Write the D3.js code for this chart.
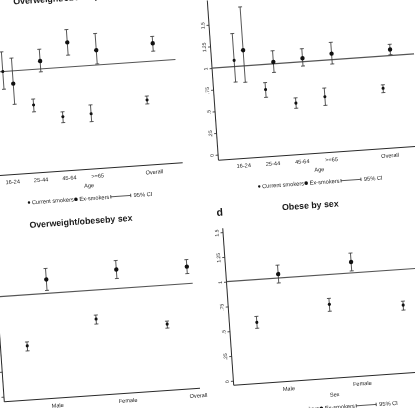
<!DOCTYPE html>
<html><head><meta charset="utf-8">
<script src="https://cdn.jsdelivr.net/npm/d3@7"></script>
<style>
html,body{margin:0;padding:0;background:#fff;overflow:hidden}
svg{display:block;filter:blur(0.3px)}
text{font-family:"Liberation Sans",Arial,Helvetica,sans-serif;fill:#1a1a1a}
</style>
</head><body><svg id="c" width="415" height="408"></svg>
<script>
// ---------- data ----------
const ageCategories = ["16-24","25-44","45-64",">=65","Overall"];
const agePositions  = [1,2,3,4,6];
const sexCategories = ["Male","Female","Overall"];
const sexPositions  = [1,2,3];
const yTickValues = [0,0.25,0.5,0.75,1,1.25,1.5];
const yTickLabels = ["0",".25",".5",".75","1","1.25","1.5"];
const legendLabels = ["Current smokers","Ex-smokers","95% CI"];

// a: Overweight/obese by age
const owAgeCur   = [1.00,0.64,0.50,0.51,0.61];
const owAgeCurLo = [0.82,0.57,0.44,0.43,0.57];
const owAgeCurHi = [1.20,0.70,0.55,0.60,0.65];
const owAgeEx    = [0.87,1.08,1.25,1.15,1.18];
const owAgeExLo  = [0.66,0.97,1.12,1.01,1.10];
const owAgeExHi  = [1.13,1.20,1.38,1.32,1.25];

// b: Obese by age
const obAgeCur   = [1.07,0.71,0.53,0.58,0.63];
const obAgeCurLo = [0.82,0.62,0.47,0.48,0.58];
const obAgeCurHi = [1.38,0.79,0.59,0.68,0.67];
const obAgeEx    = [1.18,1.02,1.04,1.07,1.07];
const obAgeExLo  = [0.81,0.90,0.95,0.95,1.01];
const obAgeExHi  = [1.68,1.15,1.15,1.20,1.13];

// c: Overweight/obese by sex
const owSexCur   = [0.49,0.71,0.61];
const owSexCurLo = [0.44,0.66,0.57];
const owSexCurHi = [0.53,0.75,0.64];
const owSexEx    = [1.14,1.19,1.17];
const owSexExLo  = [1.03,1.10,1.10];
const owSexExHi  = [1.25,1.28,1.24];

// d: Obese by sex
const obSexCur   = [0.57,0.70,0.64];
const obSexCurLo = [0.51,0.63,0.59];
const obSexCurHi = [0.63,0.76,0.68];
const obSexEx    = [1.04,1.11,1.07];
const obSexExLo  = [0.95,1.02,1.01];
const obSexExHi  = [1.13,1.20,1.13];

// ---------- layout (unrotated page coordinates) ----------
const panels = [
  {title:"Overweight/obeseby age", letter:"a", cats:ageCategories, pos:agePositions, xTitle:"Age",
   cur:[owAgeCur,owAgeCurLo,owAgeCurHi], ex:[owAgeEx,owAgeExLo,owAgeExHi],
   x0:-14.1, step:28.39, axisX:-9.3, axisEnd:185.6, axisY:161, top:5, y0:156.1, ppu:98.5,
   offCur:-0.063, offEx:0.275, titleY:-8.5},
  {title:"Obese by age", letter:"b", cats:ageCategories, pos:agePositions, xTitle:"Age",
   cur:[obAgeCur,obAgeCurLo,obAgeCurHi], ex:[obAgeEx,obAgeExLo,obAgeExHi],
   x0:216.5, step:29.33, axisX:221.5, axisEnd:424, axisY:161, top:1, y0:155.5, ppu:86.8,
   offCur:-0.06, offEx:0.27, titleY:-8.5},
  {title:"Overweight/obeseby sex", letter:"c", cats:sexCategories, pos:sexPositions, xTitle:"Sex",
   cur:[owSexCur,owSexCurLo,owSexCurHi], ex:[owSexEx,owSexExLo,owSexExHi],
   x0:-27.03, step:70.55, axisX:-9, axisEnd:187.2, axisY:387.2, top:229, y0:382, ppu:100,
   offCur:-0.365, offEx:-0.03, titleY:215.5},
  {title:"Obese by sex", letter:"d", cats:sexCategories, pos:sexPositions, xTitle:"Sex",
   cur:[obSexCur,obSexCurLo,obSexCurHi], ex:[obSexEx,obSexExLo,obSexExHi],
   x0:201.7, step:73.6, axisX:221, axisEnd:426, axisY:386.6, top:229.3, y0:382.1, ppu:99.3,
   offCur:-0.365, offEx:-0.03, titleY:215.5}
];

const svg = d3.select("#c");
svg.append("rect").attr("width",415).attr("height",408).attr("fill","#fff");
const root = svg.append("g").attr("transform","rotate(-4,207.5,204)");

const ink = "#2a2a2a";

panels.forEach(p => {
  const g = root.append("g");
  const x = d3.scaleLinear().domain([0,1]).range([p.x0, p.x0 + p.step]);
  const y = d3.scaleLinear().domain([0,1]).range([p.y0, p.y0 - p.ppu]);

  // title
  g.append("text").attr("x", p.axisX + 89).attr("y", p.titleY)
    .attr("text-anchor","middle").attr("font-size", 8.8).attr("font-weight","bold")
    .text(p.title);
  g.append("text").attr("x", p.axisX - 5).attr("y", p.titleY + 1)
    .attr("font-size", 10.5).attr("font-weight","bold").text(p.letter);

  // y axis
  const yAx = g.append("g").attr("transform", `translate(${p.axisX},0)`)
    .call(d3.axisLeft(y).tickValues(yTickValues).tickFormat((d,i)=>yTickLabels[i]).tickSize(2.5));
  yAx.select(".domain").remove();
  yAx.selectAll(".tick line").attr("stroke", ink).attr("stroke-width",0.8);
  yAx.selectAll(".tick text").attr("x",null).attr("dy",null).attr("y",null)
    .attr("transform","translate(-4.6,0) rotate(-90)")
    .attr("text-anchor","middle").attr("font-size",5).attr("font-family",null).attr("fill","#1a1a1a");
  g.append("line").attr("x1",p.axisX).attr("x2",p.axisX).attr("y1",p.top).attr("y2",p.axisY)
    .attr("stroke",ink).attr("stroke-width",1);

  // x axis
  const xAx = g.append("g").attr("transform", `translate(0,${p.axisY})`)
    .call(d3.axisBottom(x).tickValues(p.pos).tickFormat((d,i)=>p.cats[i]).tickSize(0));
  xAx.select(".domain").remove();
  xAx.selectAll(".tick text").attr("dy",null).attr("y",9.2)
    .attr("font-size",5.6).attr("font-family",null).attr("fill","#1a1a1a");
  g.append("line").attr("x1",p.axisX).attr("x2",p.axisEnd).attr("y1",p.axisY).attr("y2",p.axisY)
    .attr("stroke",ink).attr("stroke-width",1);
  g.append("text").attr("x",p.axisX+100).attr("y",p.axisY+18.2)
    .attr("text-anchor","middle").attr("font-size",5.6).text(p.xTitle);

  // reference line at 1
  g.append("line").attr("x1",p.axisX).attr("x2",p.axisEnd).attr("y1",y(1)).attr("y2",y(1))
    .attr("stroke","#555").attr("stroke-width",1.2);

  // series
  const series = [
    {vals:p.cur, off:p.offCur, r:1.55},
    {vals:p.ex,  off:p.offEx,  r:2.2}
  ];
  series.forEach(s => {
    const data = p.pos.map((ps,i)=>({x:ps+s.off, v:s.vals[0][i], lo:s.vals[1][i], hi:s.vals[2][i]}));
    const cg = g.append("g");
    cg.selectAll("line.ci").data(data).join("line").attr("class","ci")
      .attr("x1",d=>x(d.x)).attr("x2",d=>x(d.x)).attr("y1",d=>y(d.lo)).attr("y2",d=>y(d.hi))
      .attr("stroke","#333").attr("stroke-width",0.8);
    ["lo","hi"].forEach(k=>{
      cg.selectAll("line.cap"+k).data(data).join("line").attr("class","cap"+k)
        .attr("x1",d=>x(d.x)-2).attr("x2",d=>x(d.x)+2).attr("y1",d=>y(d[k])).attr("y2",d=>y(d[k]))
        .attr("stroke","#333").attr("stroke-width",0.8);
    });
    cg.selectAll("circle").data(data).join("circle")
      .attr("cx",d=>x(d.x)).attr("cy",d=>y(d.v)).attr("r",s.r).attr("fill","#111");
  });

  // legend
  const lg = g.append("g");
  const fs = 5.7;
  let cx = 0;
  const baseY = 0;
  lg.append("circle").attr("cx",cx+1.3).attr("cy",baseY-1.9).attr("r",1.2).attr("fill","#111");
  cx += 4.2;
  const t1 = lg.append("text").attr("x",cx).attr("y",baseY).attr("font-size",fs).text(legendLabels[0]);
  cx += t1.node().getComputedTextLength() + 0.3;
  lg.append("circle").attr("cx",cx+1.8).attr("cy",baseY-1.9).attr("r",1.8).attr("fill","#111");
  cx += 5.2;
  const t2 = lg.append("text").attr("x",cx).attr("y",baseY).attr("font-size",fs).text(legendLabels[1]);
  cx += t2.node().getComputedTextLength() + 1.5;
  lg.append("line").attr("x1",cx).attr("x2",cx+20).attr("y1",baseY-1.9).attr("y2",baseY-1.9)
    .attr("stroke","#333").attr("stroke-width",0.8);
  [cx, cx+20].forEach(xx=>lg.append("line").attr("x1",xx).attr("x2",xx)
    .attr("y1",baseY-3.6).attr("y2",baseY-0.2).attr("stroke","#333").attr("stroke-width",0.8));
  cx += 23;
  const t3 = lg.append("text").attr("x",cx).attr("y",baseY).attr("font-size",fs).text(legendLabels[2]);
  cx += t3.node().getComputedTextLength();
  lg.attr("transform",`translate(${p.axisX + 100 - cx/2},${p.axisY + 31})`);
});
</script>
</body></html>
